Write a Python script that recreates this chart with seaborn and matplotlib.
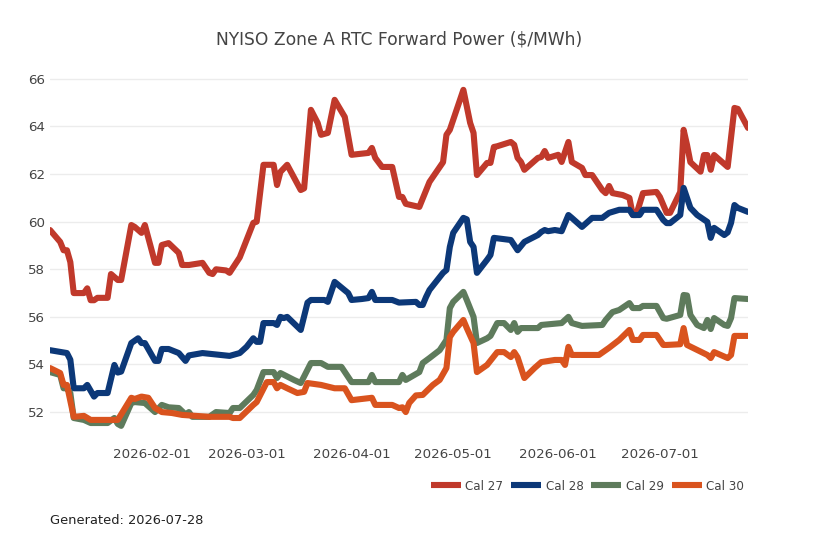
import pandas as pd
import matplotlib
matplotlib.use("Agg")
import matplotlib.pyplot as plt
import matplotlib.dates as mdates
import seaborn as sns

# forward curve settles (dates are 2026 MM-DD)
cal27_dates = ["01-02", "01-05", "01-06", "01-07", "01-08", "01-09", "01-12", "01-13", "01-14", "01-15",
               "01-16", "01-19", "01-20", "01-22", "01-23", "01-26", "01-27", "01-29", "01-30", "02-02",
               "02-03", "02-04", "02-06", "02-09", "02-10", "02-12", "02-16", "02-18", "02-19", "02-20",
               "02-23", "02-24", "02-27", "03-03", "03-04", "03-06", "03-09", "03-10", "03-11", "03-13",
               "03-17", "03-18", "03-20", "03-22", "03-23", "03-25", "03-27", "03-30", "04-01", "04-06",
               "04-07", "04-08", "04-10", "04-13", "04-15", "04-16", "04-17", "04-21", "04-24", "04-28",
               "04-29", "04-30", "05-04", "05-06", "05-07", "05-08", "05-11", "05-12", "05-13", "05-14",
               "05-18", "05-19", "05-20", "05-21", "05-22", "05-26", "05-27", "05-28", "05-29", "06-01",
               "06-02", "06-04", "06-05", "06-08", "06-09", "06-11", "06-14", "06-15", "06-16", "06-17",
               "06-20", "06-22", "06-23", "06-24", "06-26", "06-30", "07-01", "07-03", "07-04", "07-07",
               "07-08", "07-09", "07-10", "07-13", "07-14", "07-15", "07-16", "07-17", "07-21", "07-23",
               "07-24", "07-27"]
cal27 = [59.65, 59.15, 58.8, 58.8, 58.3, 57.0, 57.0, 57.2, 56.7, 56.7,
         56.8, 56.8, 57.8, 57.55, 57.55, 59.86, 59.78, 59.53, 59.86, 58.27,
         58.27, 59.02, 59.1, 58.69, 58.18, 58.18, 58.27, 57.85, 57.8, 58.0,
         57.95, 57.85, 58.5, 59.95, 60.0, 62.39, 62.39, 61.54, 62.09, 62.39,
         61.33, 61.4, 64.7, 64.15, 63.65, 63.73, 65.12, 64.4, 62.81, 62.89,
         63.1, 62.68, 62.3, 62.3, 61.04, 61.04, 60.75, 60.62, 61.67, 62.5,
         63.65, 63.86, 65.54, 64.15, 63.73, 61.96, 62.47, 62.47, 63.14, 63.17,
         63.35, 63.23, 62.68, 62.51, 62.18, 62.68, 62.72, 62.97, 62.68, 62.81,
         62.51, 63.35, 62.51, 62.26, 61.96, 61.96, 61.33, 61.2, 61.5, 61.2,
         61.12, 61.0, 60.28, 60.28, 61.2, 61.25, 61.04, 60.37, 60.37, 61.25,
         63.86, 63.23, 62.5, 62.1, 62.8, 62.8, 62.18, 62.8, 62.3, 64.78,
         64.74, 63.94]

cal28_dates = ["01-02", "01-07", "01-08", "01-09", "01-12", "01-13", "01-15", "01-16", "01-19", "01-21",
               "01-22", "01-23", "01-26", "01-28", "01-29", "01-30", "02-02", "02-03", "02-04", "02-06",
               "02-09", "02-11", "02-12", "02-16", "02-24", "02-27", "03-01", "03-03", "03-04", "03-05",
               "03-06", "03-09", "03-10", "03-11", "03-12", "03-13", "03-17", "03-19", "03-20", "03-24",
               "03-25", "03-27", "03-31", "04-01", "04-04", "04-06", "04-07", "04-08", "04-13", "04-15",
               "04-20", "04-21", "04-22", "04-23", "04-24", "04-28", "04-29", "04-30", "05-01", "05-04",
               "05-05", "05-06", "05-07", "05-08", "05-11", "05-12", "05-13", "05-18", "05-20", "05-22",
               "05-26", "05-27", "05-28", "05-29", "05-31", "06-02", "06-04", "06-05", "06-08", "06-11",
               "06-14", "06-16", "06-19", "06-22", "06-23", "06-25", "06-26", "06-30", "07-02", "07-03",
               "07-04", "07-07", "07-08", "07-10", "07-12", "07-15", "07-16", "07-17", "07-20", "07-21",
               "07-22", "07-23", "07-24", "07-27"]
cal28 = [54.6, 54.48, 54.2, 53.0, 53.0, 53.14, 52.65, 52.8, 52.8, 53.98,
         53.66, 53.7, 54.9, 55.1, 54.9, 54.9, 54.15, 54.15, 54.65, 54.65,
         54.48, 54.15, 54.38, 54.48, 54.36, 54.48, 54.74, 55.1, 54.95, 54.95,
         55.74, 55.74, 55.66, 56.0, 55.95, 56.0, 55.45, 56.6, 56.71, 56.71,
         56.63, 57.47, 57.0, 56.71, 56.75, 56.79, 57.05, 56.71, 56.71, 56.6,
         56.63, 56.5, 56.5, 56.84, 57.13, 57.85, 57.97, 58.94, 59.53, 60.16,
         60.1, 59.15, 58.94, 57.85, 58.4, 58.6, 59.32, 59.23, 58.8, 59.15,
         59.44, 59.57, 59.65, 59.6, 59.65, 59.6, 60.28, 60.16, 59.78, 60.16,
         60.16, 60.37, 60.5, 60.5, 60.28, 60.28, 60.5, 60.5, 60.07, 59.94,
         59.94, 60.28, 61.42, 60.58, 60.28, 59.99, 59.32, 59.74, 59.44, 59.55,
         59.95, 60.7, 60.58, 60.41]

cal29_dates = ["01-02", "01-05", "01-06", "01-07", "01-08", "01-09", "01-12", "01-14", "01-19", "01-21",
               "01-22", "01-23", "01-26", "01-27", "01-30", "02-02", "02-04", "02-06", "02-09", "02-11",
               "02-12", "02-13", "02-18", "02-20", "02-24", "02-25", "02-27", "03-03", "03-04", "03-06",
               "03-09", "03-10", "03-11", "03-15", "03-17", "03-20", "03-23", "03-25", "03-29", "04-01",
               "04-06", "04-07", "04-08", "04-15", "04-16", "04-17", "04-21", "04-22", "04-24", "04-27",
               "04-29", "04-30", "05-01", "05-04", "05-05", "05-07", "05-08", "05-11", "05-12", "05-14",
               "05-16", "05-18", "05-19", "05-20", "05-21", "05-26", "05-27", "06-02", "06-04", "06-05",
               "06-08", "06-14", "06-15", "06-17", "06-19", "06-22", "06-23", "06-25", "06-26", "06-30",
               "07-02", "07-03", "07-07", "07-08", "07-09", "07-10", "07-12", "07-14", "07-15", "07-16",
               "07-17", "07-20", "07-21", "07-22", "07-23", "07-27"]
cal29 = [53.68, 53.56, 53.0, 53.0, 52.8, 51.75, 51.67, 51.54, 51.54, 51.75,
         51.5, 51.42, 52.38, 52.42, 52.38, 52.0, 52.3, 52.2, 52.17, 51.9,
         52.0, 51.8, 51.8, 52.0, 51.96, 52.17, 52.17, 52.72, 52.93, 53.68,
         53.68, 53.43, 53.64, 53.35, 53.22, 54.06, 54.06, 53.9, 53.9, 53.26,
         53.26, 53.56, 53.26, 53.26, 53.56, 53.35, 53.68, 54.06, 54.27, 54.6,
         55.03, 56.37, 56.63, 57.05, 56.71, 56.0, 54.9, 55.1, 55.2, 55.74,
         55.74, 55.45, 55.74, 55.37, 55.53, 55.53, 55.66, 55.74, 56.0, 55.74,
         55.62, 55.66, 55.87, 56.2, 56.29, 56.58, 56.37, 56.37, 56.46, 56.46,
         55.95, 55.92, 56.08, 56.92, 56.9, 56.08, 55.66, 55.53, 55.87, 55.49,
         55.95, 55.66, 55.62, 55.95, 56.79, 56.75]

cal30_dates = ["01-02", "01-05", "01-06", "01-07", "01-09", "01-12", "01-14", "01-22", "01-26", "01-27",
               "01-29", "01-31", "02-02", "02-04", "02-07", "02-10", "02-18", "02-24", "02-25", "02-27",
               "03-03", "03-04", "03-07", "03-09", "03-10", "03-11", "03-13", "03-16", "03-18", "03-19",
               "03-23", "03-27", "03-30", "04-01", "04-07", "04-08", "04-13", "04-15", "04-16", "04-17",
               "04-18", "04-20", "04-22", "04-24", "04-25", "04-27", "04-29", "04-30", "05-01", "05-04",
               "05-05", "05-07", "05-08", "05-11", "05-14", "05-16", "05-18", "05-19", "05-20", "05-22",
               "05-25", "05-27", "05-31", "06-02", "06-03", "06-04", "06-05", "06-08", "06-13", "06-16",
               "06-19", "06-22", "06-23", "06-25", "06-26", "06-30", "07-02", "07-03", "07-07", "07-08",
               "07-09", "07-12", "07-15", "07-16", "07-17", "07-21", "07-22", "07-23", "07-27"]
cal30 = [53.85, 53.64, 53.14, 53.14, 51.8, 51.84, 51.67, 51.67, 52.6, 52.55,
         52.65, 52.6, 52.17, 52.0, 51.96, 51.88, 51.8, 51.8, 51.75, 51.75,
         52.3, 52.42, 53.26, 53.26, 53.0, 53.14, 53.0, 52.8, 52.85, 53.22,
         53.14, 53.0, 53.0, 52.5, 52.6, 52.3, 52.3, 52.17, 52.2, 52.0,
         52.38, 52.7, 52.72, 53.0, 53.14, 53.35, 53.85, 55.15, 55.37, 55.87,
         55.53, 54.9, 53.68, 53.98, 54.52, 54.52, 54.31, 54.52, 54.3, 53.43,
         53.85, 54.1, 54.19, 54.19, 53.98, 54.74, 54.4, 54.4, 54.4, 54.7,
         55.03, 55.45, 55.03, 55.03, 55.24, 55.24, 54.82, 54.82, 54.85, 55.53,
         54.82, 54.61, 54.4, 54.27, 54.52, 54.27, 54.4, 55.2, 55.2]

contracts = ["Cal 27", "Cal 28", "Cal 29", "Cal 30"]
colors = ["#c0392b", "#0c3878", "#5e7b5c", "#d9531e"]

frames = []
for name, days, vals in zip(contracts,
                            [cal27_dates, cal28_dates, cal29_dates, cal30_dates],
                            [cal27, cal28, cal29, cal30]):
    frames.append(pd.DataFrame({"date": pd.to_datetime(["2026-" + d for d in days]),
                                "price": vals, "contract": name}))
df = pd.concat(frames, ignore_index=True)

sns.set_style("white")
plt.rcParams["font.family"] = ["DejaVu Sans"]

fig = plt.figure(figsize=(8.18, 5.45), dpi=100)
ax = fig.add_axes([50 / 818, 102 / 545, 698 / 818, 381 / 545])

sns.lineplot(data=df, x="date", y="price", hue="contract", hue_order=contracts,
             palette=colors, linewidth=4.4, estimator=None, sort=True, ax=ax,
             solid_joinstyle="round")

handles, labels = ax.get_legend_handles_labels()
ax.get_legend().remove()

ax.set_xlim(df["date"].min(), df["date"].max())
ax.set_ylim(50.7, 66.71)
ax.set_yticks(range(52, 67, 2))
ax.xaxis.set_major_locator(mdates.MonthLocator(bymonthday=1))
ax.xaxis.set_major_formatter(mdates.DateFormatter("%Y-%m-%d"))
ax.grid(axis="y", color="#ececec", linewidth=1)
ax.grid(axis="x", visible=False)
ax.set_axisbelow(True)
for s in ax.spines.values():
    s.set_visible(False)
ax.tick_params(length=0, labelsize=9.6, colors="#444444", pad=3.5)
ax.set_xlabel("")
ax.set_ylabel("")

fig.text(0.4878, 1 - 39 / 545, "NYISO Zone A RTC Forward Power ($/MWh)",
         ha="center", va="center", fontsize=12.3, color="#444444")

leg = fig.legend(handles, labels, loc="center right", bbox_to_anchor=(755 / 818, 1 - 486 / 545),
                 ncol=4, frameon=False, fontsize=8.6, handlelength=2.5, handletextpad=0.4,
                 columnspacing=0.65, labelcolor="#444444")
for h in leg.legend_handles:
    h.set_solid_capstyle("butt")

fig.text(50 / 818, 1 - 520 / 545, "Generated: 2026-07-28", ha="left", va="center",
         fontsize=9.4, color="#222222")

fig.savefig("out.png", dpi=100)
